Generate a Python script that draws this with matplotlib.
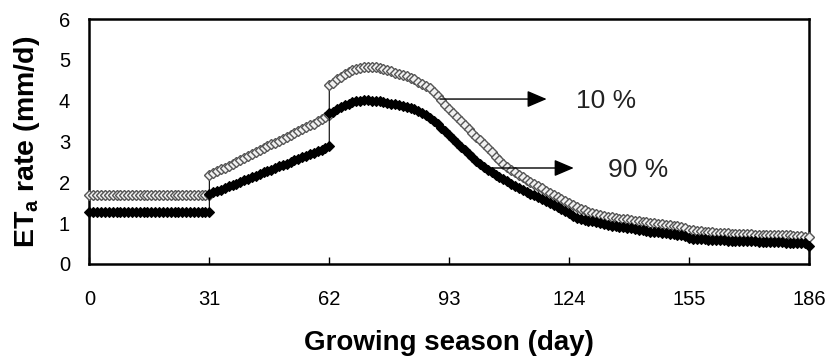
import matplotlib
matplotlib.use('Agg')
import matplotlib.pyplot as plt
import numpy as np

plt.rcParams['font.family'] = ['Liberation Sans', 'DejaVu Sans']
plt.rcParams['mathtext.fontset'] = 'custom'
plt.rcParams['mathtext.rm'] = 'Liberation Sans:bold'
plt.rcParams['mathtext.default'] = 'rm'

# day of the growing season (days 31 and 62 carry two readings: end of one
# stage and start of the next)
days = list(range(0, 32)) + list(range(31, 63)) + list(range(62, 187))

# ETa rate (mm/d), 10 % exceedance
eta_10 = [
    1.70, 1.70, 1.70, 1.70, 1.70, 1.70, 1.70, 1.70, 1.70, 1.70,
    1.70, 1.70, 1.70, 1.70, 1.70, 1.70, 1.70, 1.70, 1.70, 1.70,
    1.70, 1.70, 1.70, 1.70, 1.70, 1.70, 1.70, 1.70, 1.70, 1.70,
    1.70, 1.70,
    2.18,
    2.22, 2.28, 2.32, 2.36, 2.40, 2.45, 2.50, 2.55, 2.60, 2.65,
    2.69, 2.74, 2.78, 2.83, 2.88, 2.93, 2.97, 3.02, 3.07, 3.11,
    3.16, 3.21, 3.25, 3.30, 3.35, 3.40, 3.44, 3.49, 3.54, 3.59,
    3.64,
    4.38,
    4.43, 4.52, 4.59, 4.65, 4.70, 4.74, 4.77, 4.80, 4.82, 4.83,
    4.83, 4.82, 4.80, 4.78, 4.75, 4.72, 4.69, 4.66, 4.63, 4.60,
    4.56, 4.52, 4.47, 4.42, 4.36, 4.30, 4.21, 4.11, 4.01, 3.90,
    3.80, 3.71, 3.61, 3.51, 3.40, 3.30, 3.21, 3.12, 3.03, 2.93,
    2.83, 2.73, 2.63, 2.54, 2.46, 2.38, 2.31, 2.24, 2.18, 2.12,
    2.06, 2.00, 1.95, 1.90, 1.85, 1.79, 1.74, 1.69, 1.64, 1.59,
    1.54, 1.49, 1.45, 1.40, 1.35, 1.31, 1.28, 1.25, 1.22, 1.20,
    1.18, 1.16, 1.14, 1.12, 1.11, 1.10, 1.09, 1.08, 1.06, 1.05,
    1.03, 1.02, 1.01, 0.99, 0.98, 0.97, 0.96, 0.95, 0.93, 0.92,
    0.91, 0.88, 0.84, 0.82, 0.81, 0.80, 0.79, 0.78, 0.77, 0.76,
    0.76, 0.75, 0.75, 0.74, 0.74, 0.74, 0.73, 0.73, 0.73, 0.72,
    0.72, 0.72, 0.72, 0.71, 0.71, 0.71, 0.71, 0.70, 0.70, 0.69,
    0.69, 0.68, 0.67, 0.66,
]

# ETa rate (mm/d), 90 % exceedance
eta_90 = [
    1.27, 1.27, 1.27, 1.27, 1.27, 1.27, 1.27, 1.27, 1.27, 1.27,
    1.27, 1.27, 1.27, 1.27, 1.27, 1.27, 1.27, 1.27, 1.27, 1.27,
    1.27, 1.27, 1.27, 1.27, 1.27, 1.27, 1.27, 1.27, 1.27, 1.27,
    1.27, 1.27,
    1.72,
    1.75, 1.79, 1.82, 1.86, 1.90, 1.94, 1.97, 2.01, 2.05, 2.09,
    2.12, 2.16, 2.20, 2.24, 2.27, 2.31, 2.35, 2.39, 2.42, 2.46,
    2.50, 2.54, 2.57, 2.61, 2.65, 2.69, 2.72, 2.76, 2.80, 2.84,
    2.88,
    3.70,
    3.73, 3.80, 3.85, 3.89, 3.93, 3.96, 3.98, 4.00, 4.01, 4.01,
    4.00, 3.99, 3.98, 3.97, 3.95, 3.93, 3.91, 3.89, 3.87, 3.85,
    3.83, 3.80, 3.75, 3.70, 3.64, 3.57, 3.50, 3.42, 3.34, 3.26,
    3.16, 3.06, 2.96, 2.87, 2.79, 2.70, 2.61, 2.53, 2.45, 2.38,
    2.30, 2.24, 2.18, 2.12, 2.07, 2.02, 1.97, 1.92, 1.87, 1.82,
    1.77, 1.72, 1.68, 1.63, 1.58, 1.54, 1.49, 1.45, 1.40, 1.35,
    1.30, 1.25, 1.18, 1.13, 1.10, 1.08, 1.06, 1.04, 1.02, 1.00,
    0.98, 0.96, 0.94, 0.92, 0.91, 0.90, 0.89, 0.87, 0.86, 0.84,
    0.82, 0.80, 0.79, 0.78, 0.77, 0.76, 0.75, 0.74, 0.73, 0.72,
    0.71, 0.68, 0.64, 0.62, 0.61, 0.60, 0.60, 0.59, 0.59, 0.59,
    0.58, 0.58, 0.57, 0.57, 0.57, 0.56, 0.56, 0.55, 0.55, 0.55,
    0.54, 0.54, 0.54, 0.53, 0.53, 0.53, 0.53, 0.52, 0.52, 0.52,
    0.51, 0.51, 0.51, 0.45,
]

x_ticks = [0, 31, 62, 93, 124, 155, 186]
y_ticks = [0, 1, 2, 3, 4, 5, 6]

# arrow labels: text, arrow start (day, value), arrow tip day, text position
labels = ['10 %', '90 %']
arrow_start = [(90.6, 4.04), (103.5, 2.35)]
arrow_tip_day = [118.2, 125.2]
label_pos = [(125.9, 4.0), (134.1, 2.3)]

fig = plt.figure(figsize=(8.28, 3.6), dpi=100)
ax = fig.add_axes([0.108, 0.267, 0.869, 0.68])

ax.plot(days, eta_10, color='black', linewidth=0.8, marker='D', markersize=4.6,
        markerfacecolor='#f0f0f0', markeredgecolor='#555555', markeredgewidth=1.0,
        clip_on=False, zorder=3)
ax.plot(days, eta_90, color='black', linewidth=0.8, marker='D', markersize=4.6,
        markerfacecolor='black', markeredgecolor='black', markeredgewidth=0.8,
        clip_on=False, zorder=4)

for lab, (sx, sy), tx, (lx, ly) in zip(labels, arrow_start, arrow_tip_day, label_pos):
    ax.annotate('', xy=(tx, sy), xytext=(sx, sy),
                arrowprops=dict(arrowstyle='-|>,head_length=0.75,head_width=0.32',
                                mutation_scale=16, color='black', lw=1,
                                shrinkA=0, shrinkB=0), zorder=5)
    ax.text(lx, ly, lab, fontsize=19, va='center', ha='left', color='#222222')

ax.set_xlim(0, 186)
ax.set_ylim(0, 6)
ax.set_xticks(x_ticks)
ax.set_yticks(y_ticks)
ax.tick_params(axis='x', direction='in', length=5, width=1, pad=19, labelsize=14.5)
ax.tick_params(axis='y', direction='in', length=0, width=1, pad=14, labelsize=14.5)
for sp in ax.spines.values():
    sp.set_linewidth(1.8)

ax.set_xlabel('Growing season (day)', fontsize=20, fontweight='bold', labelpad=15)
ax.set_ylabel('ET$_{a}$ rate (mm/d)', fontsize=20.5, fontweight='bold', labelpad=12)

fig.savefig('out.png', dpi=100)
